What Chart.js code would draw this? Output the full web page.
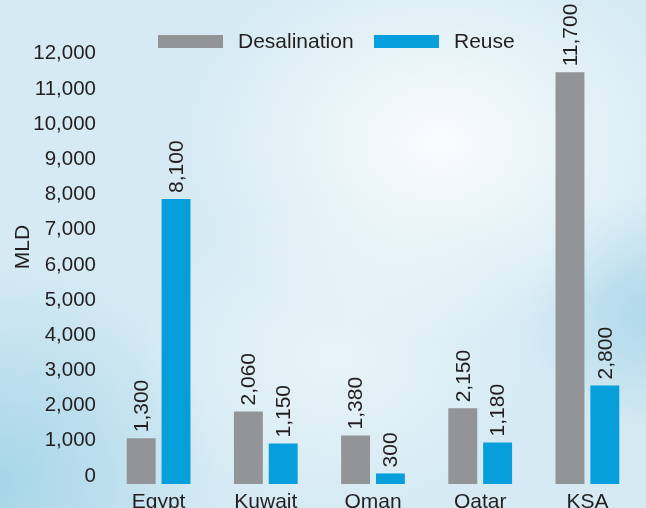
<!DOCTYPE html>
<html lang="en">

<head>
    <meta charset="UTF-8">
    <title>Desalination and Reuse</title>
    <script src="https://cdn.jsdelivr.net/npm/chart.js"></script>
    <style>
        body {
            margin: 0;
        }

        .chart-container {
            position: relative;
            width: 646px;
            height: 508px;
            overflow: hidden;
            /* fondo acuarela aproximado */
            background:
                radial-gradient(ellipse 260px 200px at 68% 28%, rgba(255, 255, 255, 0.85) 0%, rgba(255, 255, 255, 0) 100%),
                radial-gradient(ellipse 200px 160px at 52% 70%, rgba(245, 250, 252, 0.6) 0%, rgba(245, 250, 252, 0) 100%),
                radial-gradient(ellipse 220px 220px at 0% 95%, rgba(150, 206, 228, 0.75) 0%, rgba(150, 206, 228, 0) 100%),
                radial-gradient(ellipse 120px 120px at 100% 62%, rgba(150, 206, 228, 0.6) 0%, rgba(150, 206, 228, 0) 100%),
                #d5eaf3;
        }
    </style>
</head>

<body>
    <div class="chart-container">
        <canvas id="grafico"></canvas>
    </div>

    <script>
        const categories = ['Egypt', 'Kuwait', 'Oman', 'Qatar', 'KSA'];
        const seriesNames = ['Desalination', 'Reuse'];
        const desalination = [1300, 2060, 1380, 2150, 11700];
        const reuse = [8100, 1150, 300, 1180, 2800];
        const yTicks = [0, 1000, 2000, 3000, 4000, 5000, 6000, 7000, 8000, 9000, 10000, 11000, 12000];

        const FONT = '"Liberation Sans", Arial, Helvetica, sans-serif';
        const TEXT = '#231f20';
        const colores = ['#939498', '#079fdb'];

        // etiquetas de valor giradas sobre cada barra
        const valueLabels = {
            id: 'valueLabels',
            afterDatasetsDraw(chart) {
                const ctx = chart.ctx;
                ctx.save();
                ctx.font = '21px ' + FONT;
                ctx.fillStyle = TEXT;
                ctx.textAlign = 'left';
                ctx.textBaseline = 'middle';
                chart.data.datasets.forEach((ds, i) => {
                    chart.getDatasetMeta(i).data.forEach((bar, j) => {
                        ctx.save();
                        ctx.translate(bar.x, bar.y - 6);
                        ctx.rotate(-Math.PI / 2);
                        ctx.fillText(ds.data[j].toLocaleString('en-US'), 0, 1);
                        ctx.restore();
                    });
                });
                ctx.restore();
            }
        };

        // leyenda dibujada a mano dentro del area del grafico
        const legendInside = {
            id: 'legendInside',
            afterDraw(chart) {
                const ctx = chart.ctx;
                const pos = [158, 374];
                ctx.save();
                ctx.font = '21px ' + FONT;
                ctx.textBaseline = 'middle';
                chart.data.datasets.forEach((ds, i) => {
                    ctx.fillStyle = ds.backgroundColor;
                    ctx.fillRect(pos[i], 35, 65, 13);
                    ctx.fillStyle = TEXT;
                    ctx.fillText(ds.label, pos[i] + 80, 42);
                });
                ctx.restore();
            }
        };

        new Chart(document.getElementById('grafico'), {
            type: 'bar',
            data: {
                labels: categories,
                datasets: [
                    { label: seriesNames[0], data: desalination, backgroundColor: colores[0] },
                    { label: seriesNames[1], data: reuse, backgroundColor: colores[1] }
                ]
            },
            options: {
                responsive: true,
                maintainAspectRatio: false,
                animation: false,
                layout: { padding: { top: 10, right: 5, left: 0, bottom: 0 } },
                categoryPercentage: 0.65,
                barPercentage: 0.83,
                plugins: {
                    legend: { display: false },
                    tooltip: { enabled: false }
                },
                scales: {
                    x: {
                        grid: { display: false, drawTicks: false },
                        border: { display: false },
                        ticks: {
                            color: TEXT,
                            font: { family: FONT, size: 21 },
                            padding: 6,
                            maxRotation: 0
                        },
                        afterFit(scale) {
                            scale.height = 24;
                            scale.paddingLeft = 0;
                            scale.paddingRight = 0;
                        }
                    },
                    y: {
                        min: 0,
                        max: 13470,
                        grid: { display: false, drawTicks: false },
                        border: { display: false },
                        afterBuildTicks(scale) {
                            scale.ticks = yTicks.map(v => ({ value: v }));
                        },
                        ticks: {
                            color: TEXT,
                            font: { family: FONT, size: 20.5 },
                            padding: 9,
                            labelOffset: -8,
                            callback: v => v.toLocaleString('en-US')
                        },
                        title: {
                            display: true,
                            text: 'MLD',
                            color: TEXT,
                            font: { family: FONT, size: 21 },
                            padding: { top: 11, bottom: 0 }
                        },
                        afterFit(scale) {
                            scale.width = 105;
                            scale.paddingTop = 0;
                            scale.paddingBottom = 0;
                        }
                    }
                }
            },
            plugins: [valueLabels, legendInside]
        });
    </script>
</body>

</html>
